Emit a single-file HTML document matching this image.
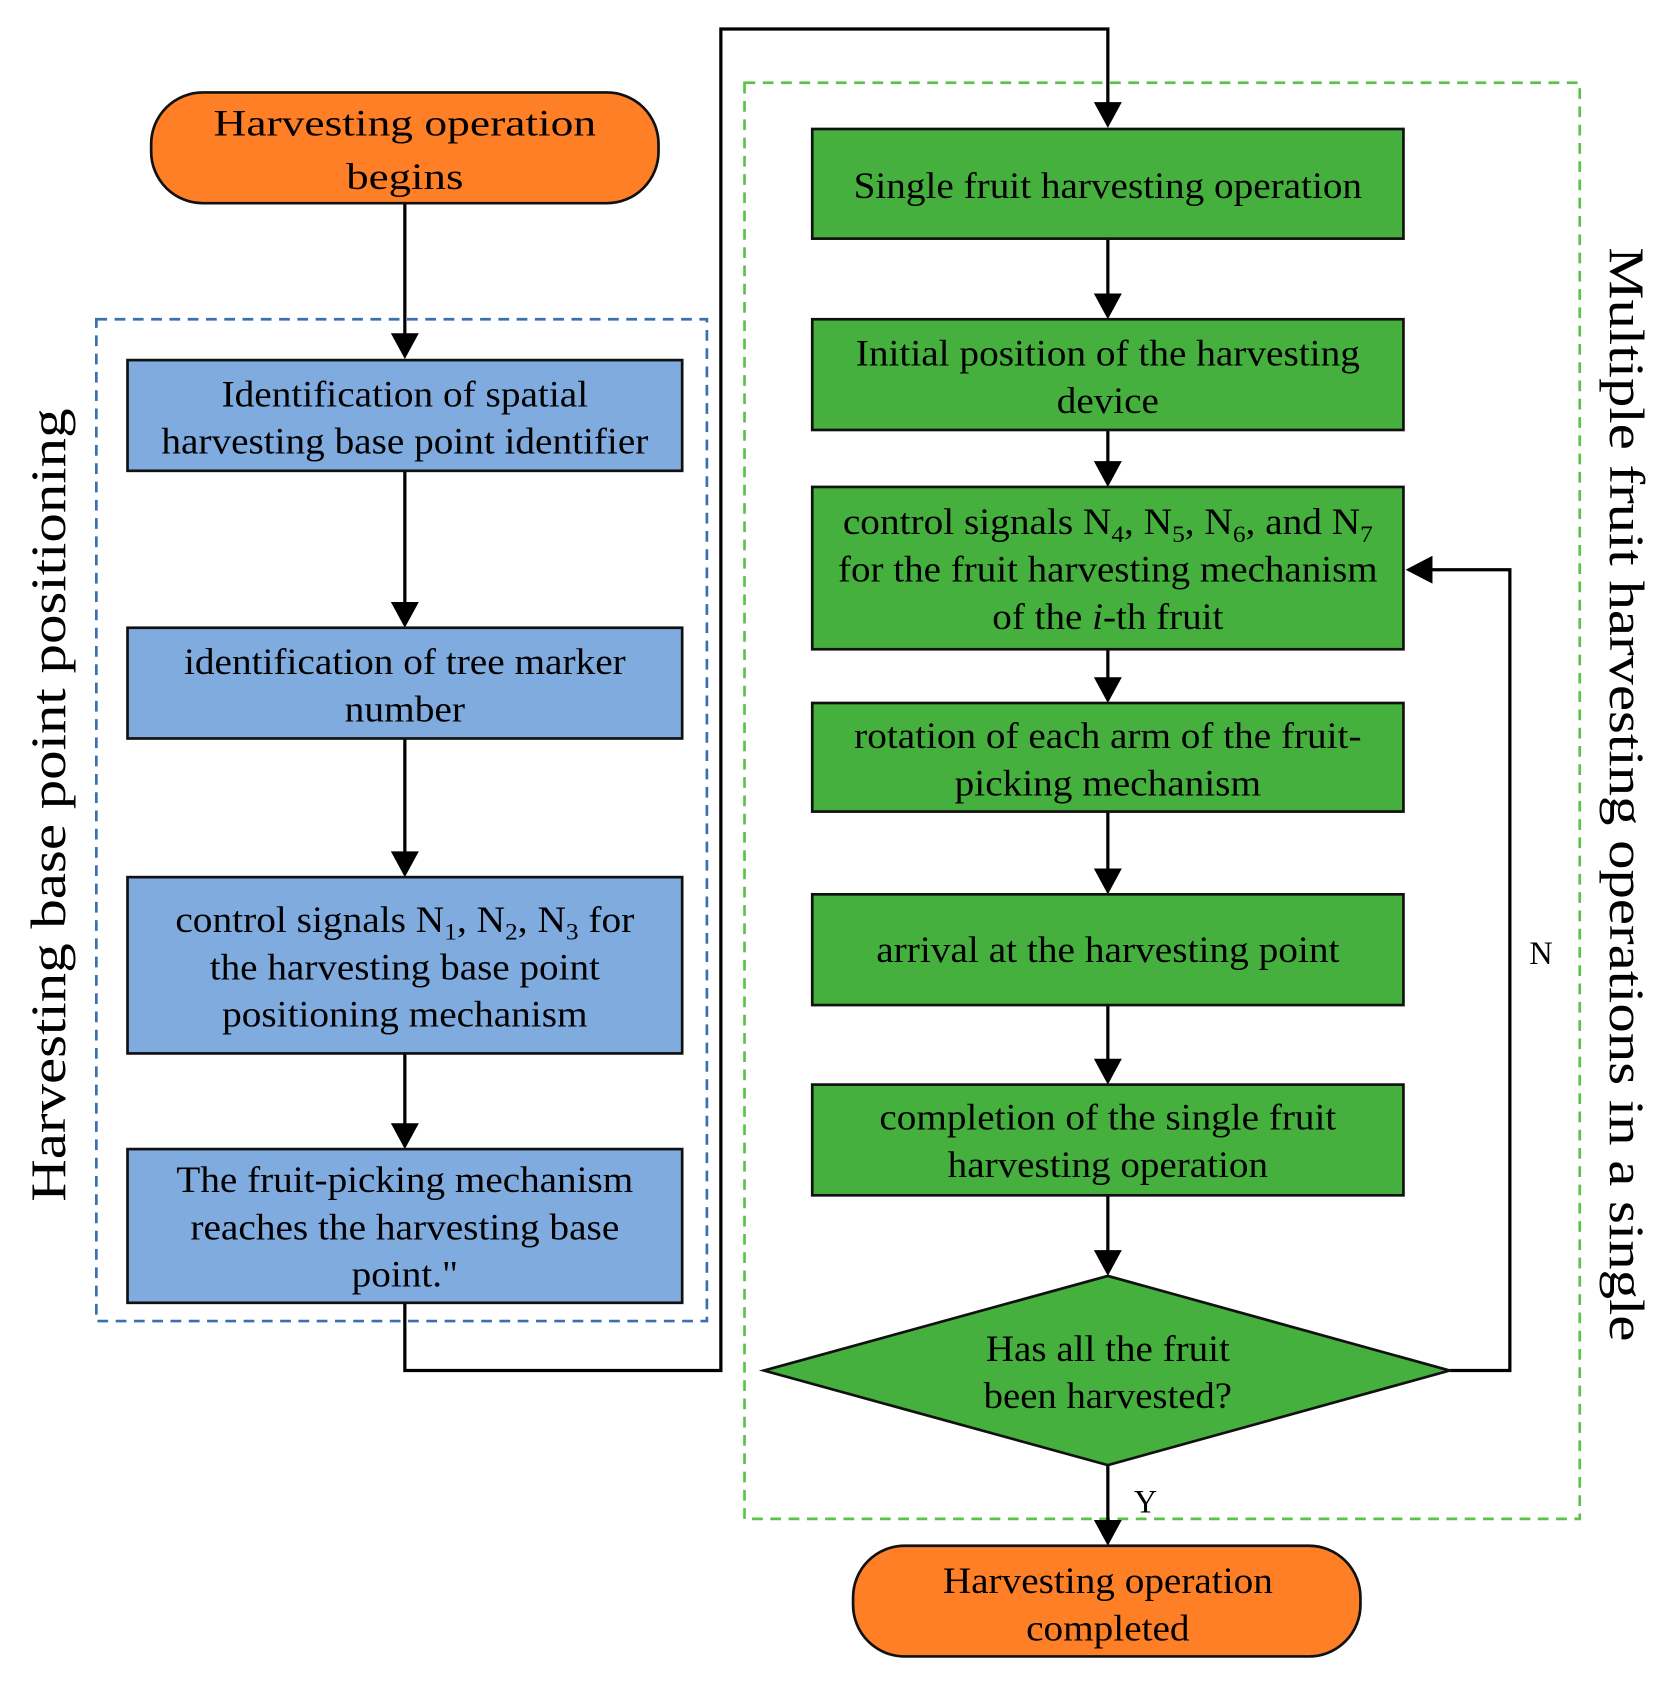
<!DOCTYPE html>
<html><head><meta charset="utf-8"><style>
html,body{margin:0;padding:0;background:#fff}
svg{display:block}
text{font-family:"Liberation Serif",serif;fill:#000}
</style></head><body>
<svg width="1675" height="1693" viewBox="0 0 1557 1575" xmlns="http://www.w3.org/2000/svg">
<g font-size="34" text-anchor="middle">
<rect x="89" y="297" width="568" height="932" fill="none" stroke="#3A6FB0" stroke-width="2.5" stroke-dasharray="10,7"/>
<rect x="692" y="77" width="777" height="1336" fill="none" stroke="#5CC24A" stroke-width="2.5" stroke-dasharray="10,7"/>

<g stroke="#000" stroke-width="3" fill="none">
<line x1="376" y1="189" x2="376" y2="312"/>
<line x1="376" y1="438" x2="376" y2="562"/>
<line x1="376" y1="687" x2="376" y2="794"/>
<line x1="376" y1="980" x2="376" y2="1047"/>
<polyline points="376,1212 376,1275 670,1275 670,27 1030,27 1030,97"/>
<line x1="1030" y1="222" x2="1030" y2="275"/>
<line x1="1030" y1="400" x2="1030" y2="431"/>
<line x1="1030" y1="604" x2="1030" y2="632"/>
<line x1="1030" y1="755" x2="1030" y2="810"/>
<line x1="1030" y1="935" x2="1030" y2="987"/>
<line x1="1030" y1="1112" x2="1030" y2="1165"/>
<polyline points="1348,1275 1404,1275 1404,530 1330,530"/>
<line x1="1030" y1="1363" x2="1030" y2="1416"/>
</g>
<g fill="#000">
<polygon points="363,310 389,310 376,334"/>
<polygon points="363,560 389,560 376,584"/>
<polygon points="363,792 389,792 376,816"/>
<polygon points="363,1045 389,1045 376,1069"/>
<polygon points="1017,95 1043,95 1030,119"/>
<polygon points="1017,273 1043,273 1030,297"/>
<polygon points="1017,429 1043,429 1030,453"/>
<polygon points="1017,630 1043,630 1030,654"/>
<polygon points="1017,808 1043,808 1030,832"/>
<polygon points="1017,985 1043,985 1030,1009"/>
<polygon points="1017,1163 1043,1163 1030,1187"/>
<polygon points="1017,1414 1043,1414 1030,1438"/>
<polygon points="1332,517 1332,543 1307,530"/>
</g>

<rect x="140" y="86" width="472" height="103" rx="48" fill="#FF7F27" stroke="#111" stroke-width="2.5"/>
<text x="376" y="126" textLength="356" lengthAdjust="spacingAndGlyphs">Harvesting operation</text>
<text x="376" y="176" textLength="109" lengthAdjust="spacingAndGlyphs">begins</text>
<rect x="793" y="1438" width="472" height="103" rx="48" fill="#FF7F27" stroke="#111" stroke-width="2.5"/>
<text x="1030" y="1482" textLength="307" lengthAdjust="spacingAndGlyphs">Harvesting operation</text>
<text x="1030" y="1526" textLength="152" lengthAdjust="spacingAndGlyphs">completed</text>

<g fill="#7FABDF" stroke="#111" stroke-width="2.5">
<rect x="118" y="335" width="516" height="103"/>
<rect x="118" y="584" width="516" height="103"/>
<rect x="118" y="816" width="516" height="164"/>
<rect x="118" y="1069" width="516" height="143"/>
</g>
<text x="376" y="378" textLength="341" lengthAdjust="spacingAndGlyphs">Identification of spatial</text>
<text x="376" y="422" textLength="453" lengthAdjust="spacingAndGlyphs">harvesting base point identifier</text>
<text x="376" y="627" textLength="411" lengthAdjust="spacingAndGlyphs">identification of tree marker</text>
<text x="376" y="671" textLength="112" lengthAdjust="spacingAndGlyphs">number</text>
<text x="376" y="867" textLength="427" lengthAdjust="spacingAndGlyphs">control signals N<tspan font-size="22" dy="7">1</tspan><tspan dy="-7">, N</tspan><tspan font-size="22" dy="7">2</tspan><tspan dy="-7">, N</tspan><tspan font-size="22" dy="7">3</tspan><tspan dy="-7"> for</tspan></text>
<text x="376" y="911" textLength="363" lengthAdjust="spacingAndGlyphs">the harvesting base point</text>
<text x="376" y="955" textLength="340" lengthAdjust="spacingAndGlyphs">positioning mechanism</text>
<text x="376" y="1109" textLength="425" lengthAdjust="spacingAndGlyphs">The fruit-picking mechanism</text>
<text x="376" y="1153" textLength="399" lengthAdjust="spacingAndGlyphs">reaches the harvesting base</text>
<text x="376" y="1197" textLength="99" lengthAdjust="spacingAndGlyphs">point."</text>

<g fill="#45B03D" stroke="#111" stroke-width="2.5">
<rect x="755" y="120" width="550" height="102"/>
<rect x="755" y="297" width="550" height="103"/>
<rect x="755" y="453" width="550" height="151"/>
<rect x="755" y="654" width="550" height="101"/>
<rect x="755" y="832" width="550" height="103"/>
<rect x="755" y="1009" width="550" height="103"/>
<polygon points="710,1275 1030,1187 1348,1275 1030,1363"/>
</g>
<text x="1030" y="184" textLength="473" lengthAdjust="spacingAndGlyphs">Single fruit harvesting operation</text>
<text x="1030" y="340" textLength="469" lengthAdjust="spacingAndGlyphs">Initial position of the harvesting</text>
<text x="1030" y="384" textLength="95" lengthAdjust="spacingAndGlyphs">device</text>
<text x="1030" y="497" textLength="493" lengthAdjust="spacingAndGlyphs">control signals N<tspan font-size="22" dy="7">4</tspan><tspan dy="-7">, N</tspan><tspan font-size="22" dy="7">5</tspan><tspan dy="-7">, N</tspan><tspan font-size="22" dy="7">6</tspan><tspan dy="-7">, and N</tspan><tspan font-size="22" dy="7">7</tspan></text>
<text x="1030" y="541" textLength="502" lengthAdjust="spacingAndGlyphs">for the fruit harvesting mechanism</text>
<text x="1030" y="585" textLength="215" lengthAdjust="spacingAndGlyphs">of the <tspan font-style="italic">i</tspan>-th fruit</text>
<text x="1030" y="696" textLength="472" lengthAdjust="spacingAndGlyphs">rotation of each arm of the fruit-</text>
<text x="1030" y="740" textLength="285" lengthAdjust="spacingAndGlyphs">picking mechanism</text>
<text x="1030" y="895" textLength="431" lengthAdjust="spacingAndGlyphs">arrival at the harvesting point</text>
<text x="1030" y="1051" textLength="425" lengthAdjust="spacingAndGlyphs">completion of the single fruit</text>
<text x="1030" y="1095" textLength="298" lengthAdjust="spacingAndGlyphs">harvesting operation</text>
<text x="1030" y="1266" textLength="227" lengthAdjust="spacingAndGlyphs">Has all the fruit</text>
<text x="1030" y="1310" textLength="231" lengthAdjust="spacingAndGlyphs">been harvested?</text>

<text x="1433" y="897" font-size="30">N</text>
<text x="1065" y="1407" font-size="30">Y</text>
<text transform="translate(60,749) rotate(-90)" font-size="46" textLength="738" lengthAdjust="spacingAndGlyphs">Harvesting base point positioning</text>
<text transform="translate(1497,739) rotate(90)" font-size="46" textLength="1018" lengthAdjust="spacingAndGlyphs">Multiple fruit harvesting operations in a single</text>
</g>
</svg>
</body></html>
